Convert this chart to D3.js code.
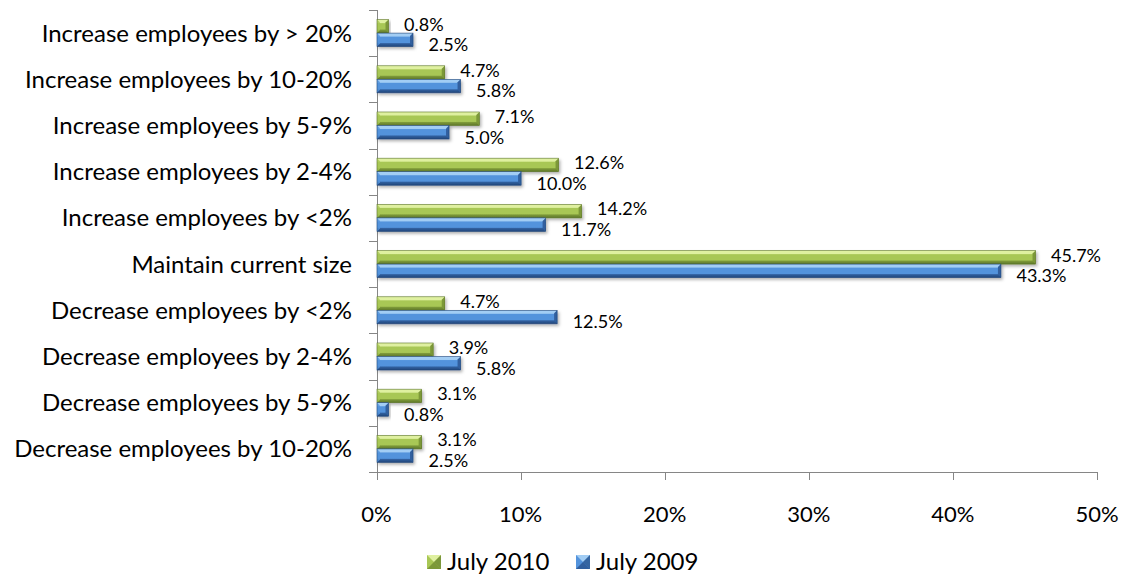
<!DOCTYPE html>
<meta charset="utf-8">
<head>
<style>
body { margin: 0; background: #fff; font-family: "Lato", "Open Sans", sans-serif; }
.axis-line { stroke: #868686; stroke-width: 1px; fill: none; shape-rendering: crispEdges; }
.cat { font-size: 24px; fill: #000; }
.tick-label { font-size: 22px; fill: #000; }
.val { font-size: 18px; fill: #000; }
.legend text { font-size: 24px; fill: #000; }
</style>
<script src="https://d3js.org/d3.v7.min.js"></script>
</head>
<body>
<div id="chart"></div>
<script>

var categories = [
  "Increase employees by > 20%",
  "Increase employees by 10-20%",
  "Increase employees by 5-9%",
  "Increase employees by 2-4%",
  "Increase employees by <2%",
  "Maintain current size",
  "Decrease employees by <2%",
  "Decrease employees by 2-4%",
  "Decrease employees by 5-9%",
  "Decrease employees by 10-20%"
];
var series = ["July 2010", "July 2009"];
var july2010 = [0.8, 4.7, 7.1, 12.6, 14.2, 45.7, 4.7, 3.9, 3.1, 3.1];
var july2009 = [2.5, 5.8, 5.0, 10.0, 11.7, 43.3, 12.5, 5.8, 0.8, 2.5];
var xTicks = [0, 10, 20, 30, 40, 50];

var W = 1125, H = 576;
var plot = {left: 376.5, right: 1097, top: 10, bottom: 472};

var svg = d3.select("#chart").append("svg")
  .attr("width", W)
  .attr("height", H);

// colours for the bevelled bars: light top, face, dark bottom, edge
var palette = {
  "July 2010": {top: "#dff0a0", face: "#a8c755", bottom: "#7c9838", edge: "#5d7629"},
  "July 2009": {top: "#a2cdf4", face: "#5393dc", bottom: "#305f9e", edge: "#22467a"}
};

var defs = svg.append("defs");
series.forEach(function(s, i) {
  var c = palette[s];
  var g = defs.append("linearGradient")
    .attr("id", "grad" + i)
    .attr("x1", 0).attr("y1", 0).attr("x2", 0).attr("y2", 1);
  g.append("stop").attr("offset", "0%").attr("stop-color", c.top);
  g.append("stop").attr("offset", "22%").attr("stop-color", c.top);
  g.append("stop").attr("offset", "30%").attr("stop-color", c.face);
  g.append("stop").attr("offset", "70%").attr("stop-color", c.face);
  g.append("stop").attr("offset", "78%").attr("stop-color", c.bottom);
  g.append("stop").attr("offset", "100%").attr("stop-color", c.edge);
});
var shadow = defs.append("filter").attr("id", "shadow")
  .attr("x", "-10%").attr("y", "-30%").attr("width", "130%").attr("height", "180%");
shadow.append("feDropShadow")
  .attr("dx", 1.5).attr("dy", 2).attr("stdDeviation", 1.5)
  .attr("flood-color", "#000").attr("flood-opacity", 0.3);

var x = d3.scaleLinear().domain([0, 50]).range([plot.left, plot.right]);

var yCat = d3.scaleBand().domain(categories).range([plot.top, plot.bottom]).padding(0);
var ySer = d3.scaleBand().domain(series)
  .range([0, yCat.bandwidth()])
  .paddingInner(0).paddingOuter(0.71);

var rows = [];
categories.forEach(function(c, i) {
  rows.push({cat: c, series: "July 2010", idx: 0, value: july2010[i]});
  rows.push({cat: c, series: "July 2009", idx: 1, value: july2009[i]});
});

// axes
svg.append("line").attr("class", "axis-line")
  .attr("x1", Math.round(plot.left) + 0.5).attr("x2", Math.round(plot.left) + 0.5)
  .attr("y1", plot.top).attr("y2", plot.bottom);
svg.append("line").attr("class", "axis-line")
  .attr("x1", plot.left).attr("x2", plot.right)
  .attr("y1", plot.bottom + 0.5).attr("y2", plot.bottom + 0.5);

var catEdges = categories.map(function(c) { return yCat(c); }).concat([plot.bottom]);
svg.selectAll(".ytick")
  .data(catEdges)
  .enter().append("line")
  .attr("class", "axis-line")
  .attr("x1", plot.left - 8).attr("x2", plot.left)
  .attr("y1", function(d) { return Math.round(d) + 0.5; })
  .attr("y2", function(d) { return Math.round(d) + 0.5; });

svg.selectAll(".xtick")
  .data(xTicks)
  .enter().append("line")
  .attr("class", "axis-line")
  .attr("x1", function(d) { return Math.round(x(d)) + 0.5; })
  .attr("x2", function(d) { return Math.round(x(d)) + 0.5; })
  .attr("y1", plot.bottom).attr("y2", plot.bottom + 8);

svg.selectAll(".tick-label")
  .data(xTicks)
  .enter().append("text")
  .attr("class", "tick-label")
  .attr("x", function(d) { return x(d); })
  .attr("y", 514)
  .attr("dy", "0.35em")
  .attr("text-anchor", "middle")
  .text(function(d) { return d + "%"; });

svg.selectAll(".cat")
  .data(categories)
  .enter().append("text")
  .attr("class", "cat")
  .attr("x", 352)
  .attr("y", function(d) { return yCat(d) + yCat.bandwidth() / 2; })
  .attr("dy", "0.35em")
  .attr("text-anchor", "end")
  .text(function(d) { return d; });

// bevelled bar
var bev = 3;
function drawBar(sel, x0, y0, w, h, i) {
  var c = palette[series[i]];
  var g = sel.append("g").attr("filter", "url(#shadow)");
  g.append("rect")
    .attr("x", x0).attr("y", y0).attr("width", w).attr("height", h)
    .attr("fill", "url(#grad" + i + ")");
  var b = Math.min(bev, w / 2);
  // right end bevel
  g.append("polygon")
    .attr("points", [[x0 + w - b, y0 + b], [x0 + w, y0], [x0 + w, y0 + h], [x0 + w - b, y0 + h - b]].join(" "))
    .attr("fill", c.bottom);
  // left end bevel
  g.append("polygon")
    .attr("points", [[x0, y0], [x0 + b, y0 + b], [x0 + b, y0 + h - b], [x0, y0 + h]].join(" "))
    .attr("fill", c.face).attr("opacity", 0.8);
  g.append("rect")
    .attr("x", x0).attr("y", y0).attr("width", w).attr("height", h)
    .attr("fill", "none").attr("stroke", c.edge).attr("stroke-width", 0.6);
}

var barLayer = svg.append("g");
rows.forEach(function(d) {
  var y0 = yCat(d.cat) + ySer(d.series);
  drawBar(barLayer, x(0) + 0.5, y0, x(d.value) - x(0), ySer.bandwidth(), d.idx);
});

// value labels
svg.selectAll(".val")
  .data(rows)
  .enter().append("text")
  .attr("class", "val")
  .attr("x", function(d) { return x(d.value) + 16; })
  .attr("y", function(d) {
    var c = yCat(d.cat) + ySer(d.series) + ySer.bandwidth() / 2;
    return d.idx === 0 ? c - 2 : c + 5;
  })
  .attr("dy", "0.35em")
  .text(function(d) { return d3.format(".1f")(d.value) + "%"; });

// legend
var legend = svg.append("g").attr("class", "legend");
var legendX = [427, 576];
series.forEach(function(s, i) {
  var lg = legend.append("g").attr("transform", "translate(" + legendX[i] + ",555)");
  var c = palette[s];
  var sz = 14;
  lg.append("rect").attr("width", sz).attr("height", sz).attr("fill", c.face);
  lg.append("polygon").attr("points", [[0, 0], [sz, 0], [sz / 2, sz / 2]].join(" ")).attr("fill", c.top);
  lg.append("polygon").attr("points", [[0, sz], [sz, sz], [sz / 2, sz / 2]].join(" ")).attr("fill", c.bottom);
  lg.append("polygon").attr("points", [[sz, 0], [sz, sz], [sz / 2, sz / 2]].join(" ")).attr("fill", c.edge).attr("opacity", 0.6);
  lg.append("text").attr("x", 20).attr("y", sz / 2).attr("dy", "0.35em").text(s);
});

</script>
</body>
</html>
